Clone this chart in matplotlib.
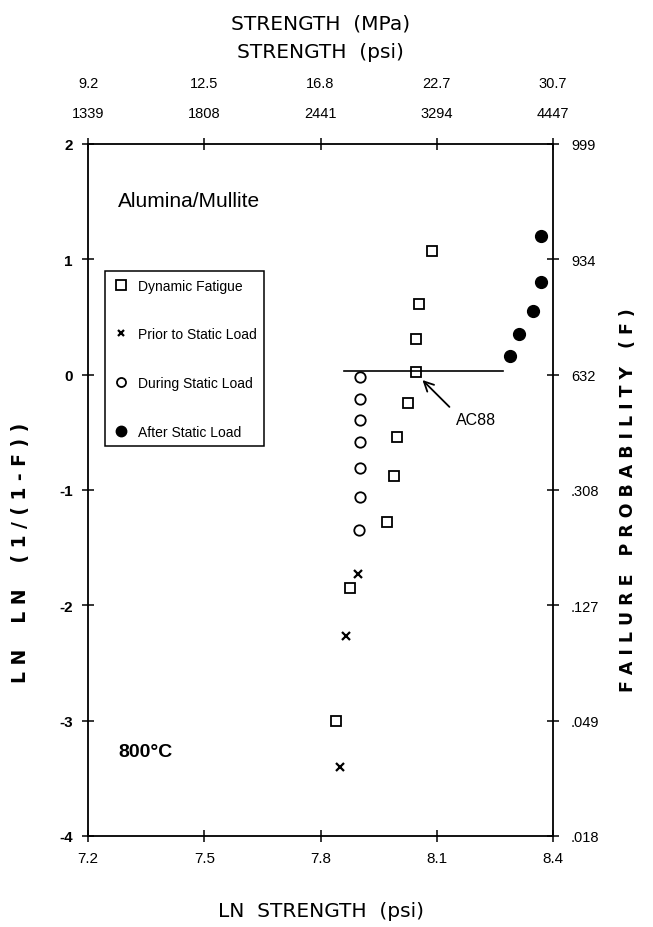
import numpy as np
import matplotlib.pyplot as plt
from matplotlib.lines import Line2D

plt.rcParams["font.family"] = ["Liberation Sans", "DejaVu Sans"]

# 数据: LN 强度 与 LN LN(1/(1-F))
dyn_x = [8.087, 8.055, 8.046, 8.046, 8.027, 7.998, 7.990, 7.971, 7.876, 7.840]
dyn_y = [1.07, 0.61, 0.31, 0.02, -0.25, -0.54, -0.88, -1.28, -1.85, -3.00]
prior_x = [7.897, 7.865, 7.850]
prior_y = [-1.73, -2.27, -3.40]
during_x = [7.903, 7.902, 7.902, 7.902, 7.902, 7.901, 7.900]
during_y = [-0.02, -0.21, -0.39, -0.58, -0.81, -1.06, -1.35]
after_x = [8.290, 8.312, 8.348, 8.369, 8.370]
after_y = [0.16, 0.35, 0.55, 0.80, 1.20]
mean_x = [7.86, 8.27]
mean_y = [0.03, 0.03]

x_ticks = [7.2, 7.5, 7.8, 8.1, 8.4]
psi_labels = ["1339", "1808", "2441", "3294", "4447"]
mpa_labels = ["9.2", "12.5", "16.8", "22.7", "30.7"]
y_ticks = [2, 1, 0, -1, -2, -3, -4]
prob_labels = ["999", "934", "632", ".308", ".127", ".049", ".018"]

fig = plt.figure(figsize=(6.53, 9.28), dpi=100)
ax = fig.add_axes([0.1348, 0.0981, 0.7121, 0.7457])

# 散点
ax.plot(dyn_x, dyn_y, "s", ms=7.5, mfc="white", mec="black", mew=1.3, ls="none")
ax.plot(prior_x, prior_y, "x", ms=5.5, color="black", mew=1.6, ls="none")
ax.plot(during_x, during_y, "o", ms=7.5, mfc="white", mec="black", mew=1.3, ls="none")
ax.plot(after_x, after_y, "o", ms=8.5, color="black", ls="none")
ax.plot(mean_x, mean_y, color="black", lw=1.2)

ax.annotate("AC88", xy=(8.058, -0.03), xytext=(8.15, -0.39),
            fontsize=11.5, ha="left", va="center",
            arrowprops=dict(arrowstyle="->,head_length=0.6,head_width=0.3",
                            color="black", lw=1.3, relpos=(0, 0.9), shrinkA=4, shrinkB=2))

ax.text(0.065, 0.91, "Alumina/Mullite", transform=ax.transAxes, fontsize=15)
ax.text(0.065, 0.122, "800°C", transform=ax.transAxes, fontsize=14, fontweight="bold",
        va="center")

# 坐标轴
ax.set_xlim(7.2, 8.4)
ax.set_ylim(-4, 2)
ax.set_xticks(x_ticks)
ax.set_xticklabels([str(v) for v in x_ticks])
ax.set_yticks(y_ticks)
ax.set_yticklabels([str(v) for v in y_ticks], fontweight="bold")
ax.tick_params(direction="inout", length=8, width=1.1, top=True, right=True,
               labelsize=11, pad=7)
for s in ax.spines.values():
    s.set_linewidth(1.3)

# 右侧概率轴
ax_r = ax.secondary_yaxis("right")
ax_r.set_yticks(y_ticks)
ax_r.set_yticklabels(prob_labels)
ax_r.tick_params(length=0, labelsize=10.5, pad=13)
ax_r.spines["right"].set_visible(False)

# 顶部 psi / MPa 轴
ax_psi = ax.secondary_xaxis("top")
ax_psi.set_xticks(x_ticks)
ax_psi.set_xticklabels(psi_labels)
ax_psi.tick_params(length=0, labelsize=10.5, pad=17)
ax_psi.spines["top"].set_visible(False)

ax_mpa = ax.secondary_xaxis("top")
ax_mpa.set_xticks(x_ticks)
ax_mpa.set_xticklabels(mpa_labels)
ax_mpa.tick_params(length=0, labelsize=10.5, pad=39)
ax_mpa.spines["top"].set_visible(False)

# 图例
handles = [
    Line2D([], [], marker="s", ls="none", ms=6.5, mfc="white", mec="black", mew=1.3),
    Line2D([], [], marker="x", ls="none", ms=5, color="black", mew=1.6),
    Line2D([], [], marker="o", ls="none", ms=6.5, mfc="white", mec="black", mew=1.3),
    Line2D([], [], marker="o", ls="none", ms=7.5, color="black"),
]
labels = ["Dynamic Fatigue", "Prior to Static Load", "During Static Load", "After Static Load"]
leg = ax.legend(handles, labels, loc="upper left", bbox_to_anchor=(0.037, 0.8165),
                fontsize=10, labelspacing=2.5, handletextpad=0.6, borderpad=0.55,
                handlelength=1.2, fancybox=False, framealpha=1, borderaxespad=0)
leg.get_frame().set_edgecolor("black")
leg.get_frame().set_linewidth(1.1)

# 标题
fig.text(0.491, 1 - 24 / 928, "STRENGTH  (MPa)", ha="center", va="center",
         fontsize=14.5, family="DejaVu Sans")
fig.text(0.491, 1 - 52 / 928, "STRENGTH  (psi)", ha="center", va="center",
         fontsize=14.5, family="DejaVu Sans")
fig.text(0.491, 1 - 912 / 928, "LN  STRENGTH  (psi)", ha="center", va="center",
         fontsize=14.5, family="DejaVu Sans")
fig.text(0.032, 1 - 553 / 928, "L N    L N    ( 1 / ( 1 - F ) )", rotation=90,
         ha="center", va="center", fontsize=13.5, fontweight="bold", family="DejaVu Sans")
fig.text(0.962, 1 - 500 / 928, "F A I L U R E   P R O B A B I L I T Y   ( F )", rotation=90,
         ha="center", va="center", fontsize=12.5, fontweight="bold", family="DejaVu Sans")

fig.savefig("out.png", dpi=100)
